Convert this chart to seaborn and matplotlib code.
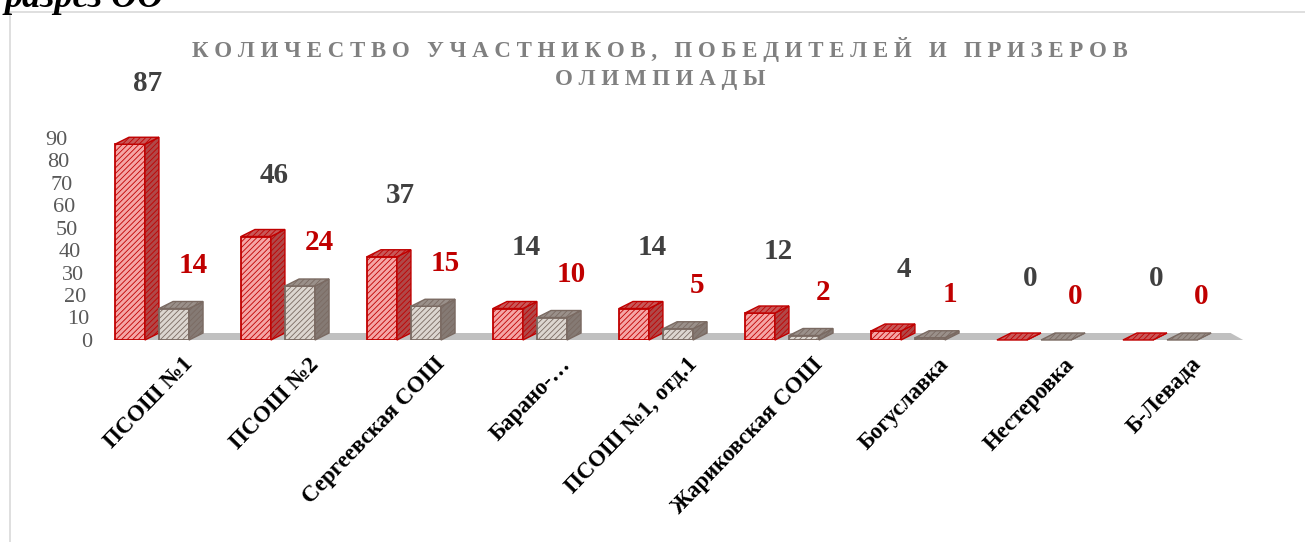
import pandas as pd
import matplotlib.pyplot as plt
import matplotlib.transforms as mtransforms
from matplotlib.patches import Polygon, Rectangle
import seaborn as sns

# Data
schools = ['ПСОШ №1', 'ПСОШ №2', 'Сергеевская СОШ', 'Барано-…', 'ПСОШ №1, отд.1',
           'Жариковская СОШ', 'Богуславка', 'Нестеровка', 'Б-Левада']
participants = [87, 46, 37, 14, 14, 12, 4, 0, 0]
winners = [14, 24, 15, 10, 5, 2, 1, 0, 0]
series_names = ['Участники', 'Победители и призеры']
yticks = [0, 10, 20, 30, 40, 50, 60, 70, 80, 90]
title_lines = ['КОЛИЧЕСТВО УЧАСТНИКОВ, ПОБЕДИТЕЛЕЙ И ПРИЗЕРОВ', 'ОЛИМПИАДЫ']

sns.set_style('white')
plt.rcParams['font.family'] = ['Liberation Serif', 'DejaVu Serif']
plt.rcParams['hatch.linewidth'] = 0.6

n = len(schools)
df = pd.DataFrame({
    'school': schools * 2,
    'series': [series_names[0]] * n + [series_names[1]] * n,
    'value': participants + winners,
})

W, H = 1305, 542
fig = plt.figure(figsize=(W / 100, H / 100), dpi=100)
ax = fig.add_axes([89 / W, 1 - 340 / H, (1223 - 89) / W, 202.5 / H])

front = ['#f5a5a5', '#dcd6d0']
edges = ['#c00000', '#7a6a62']
sides = ['#b04848', '#857a74']
tops = ['#c85858', '#9a908a']

sns.barplot(data=df, x='school', y='value', hue='series', palette=front,
            width=0.7, gap=0.32, errorbar=None, legend=False, saturation=1, ax=ax)
ax.set_xlim(-0.5, n - 0.5)
ax.set_ylim(0, 90)

# depth of the pseudo-3D boxes, in data units (14 px right, 7 px up)
inv = ax.transData.inverted()
p0 = inv.transform((0, 0))
p1 = inv.transform((14, 7))
dx, dy = p1 - p0

# floor
floor = Polygon([(-0.31, 0), (n - 0.34, 0), (n - 0.44, dy), (-0.15, dy)],
                closed=True, facecolor='#c0c0c0', edgecolor='none', zorder=1, clip_on=False)
ax.add_patch(floor)

for i, cont in enumerate(ax.containers):
    z = 3 + i
    for bar in cont:
        x0, w, h = bar.get_x(), bar.get_width(), bar.get_height()
        bar.set_edgecolor(edges[i])
        bar.set_hatch('//////')
        bar.set_linewidth(1.3)
        bar.set_zorder(z)
        side = Polygon([(x0 + w, 0), (x0 + w + dx, dy), (x0 + w + dx, h + dy), (x0 + w, h)],
                       closed=True, facecolor=sides[i], edgecolor=edges[i], hatch='//////',
                       lw=1.0, zorder=z, clip_on=False)
        top = Polygon([(x0, h), (x0 + dx, h + dy), (x0 + w + dx, h + dy), (x0 + w, h)],
                      closed=True, facecolor=tops[i], edgecolor=edges[i], hatch='//////',
                      lw=1.0, zorder=z, clip_on=False)
        ax.add_patch(side)
        ax.add_patch(top)

# value labels
for bar, v in zip(ax.containers[0], participants):
    cx = bar.get_x() + bar.get_width() / 2
    ax.annotate(str(v), (cx, v), xytext=(13, 44), textcoords='offset points',
                ha='center', va='center', fontsize=21, fontweight='bold',
                color='#404040', annotation_clip=False)
for bar, v in zip(ax.containers[1], winners):
    cx = bar.get_x() + bar.get_width() / 2
    ax.annotate(str(v), (cx, v), xytext=(14, 31), textcoords='offset points',
                ha='center', va='center', fontsize=21, fontweight='bold',
                color='#c00000', annotation_clip=False)

# axes styling
for s in ax.spines.values():
    s.set_visible(False)
ax.set_xlabel('')
ax.set_ylabel('')
ax.patch.set_alpha(0)

ax.set_yticks(yticks)
ax.set_yticklabels([str(t) for t in yticks])
ax.tick_params(axis='y', length=0, pad=0, labelsize=16, labelcolor='#595959')
for lbl, t in zip(ax.get_yticklabels(), yticks):
    shift = -22 + 25 * (90 - t) / 90
    lbl.set_transform(lbl.get_transform() +
                      mtransforms.ScaledTranslation(shift / 100, 0, fig.dpi_scale_trans))

ax.set_xticks(range(n))
ax.set_xticklabels(schools, rotation=46, ha='right', rotation_mode='anchor',
                   fontsize=16.5, fontweight='bold', color='black')
ax.tick_params(axis='x', length=0, pad=10)
for lbl in ax.get_xticklabels():
    lbl.set_transform(lbl.get_transform() +
                      mtransforms.ScaledTranslation(0.30, 0, fig.dpi_scale_trans))

# title (letter-spaced like the original) and frame
for k, line in enumerate(title_lines):
    fig.text(660 / W, 1 - (50 + 30 * k) / H, ' '.join(line),
             ha='center', va='center', fontsize=16.5, fontweight='bold', color='#808080')
fig.text(5 / W, 1 - 7 / H, 'разрез ОО', ha='left', va='baseline',
         fontsize=26, fontstyle='italic', fontweight='bold', color='black')
fig.add_artist(Rectangle((10 / W, -0.01), 1.0, 1 - 12 / H + 0.01, transform=fig.transFigure,
                         fill=False, edgecolor='#d9d9d9', lw=1.2))

fig.savefig('out.png', dpi=100)
